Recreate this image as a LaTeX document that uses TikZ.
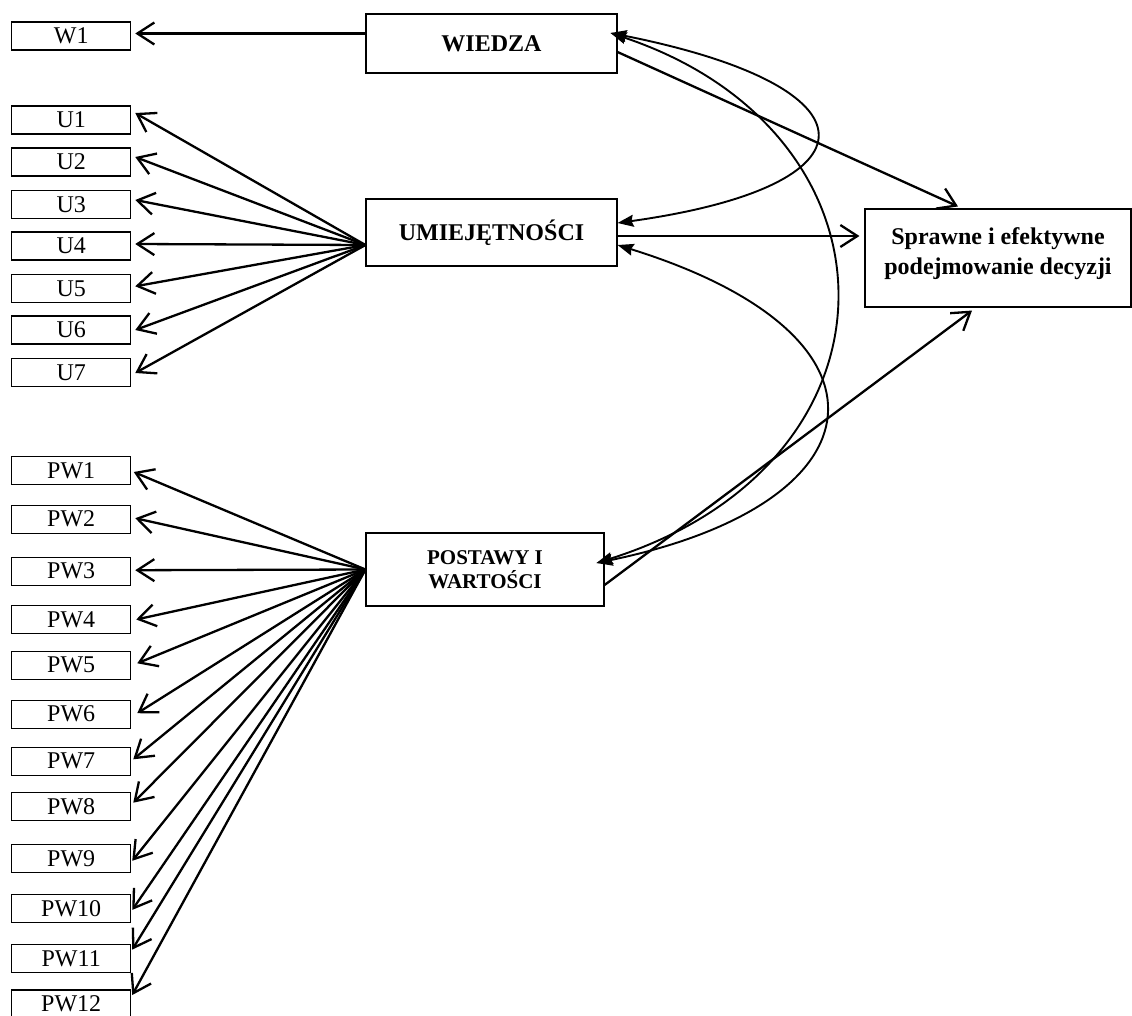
\documentclass[tikz,border=0pt]{standalone}
\usepackage{fontspec}
\setmainfont{Liberation Serif}
\usetikzlibrary{arrows.meta,calc}
\begin{document}
\begin{tikzpicture}[x=1pt,y=-1pt,
  small/.style={draw, line width=1.1pt, minimum width=119pt, minimum height=28pt, inner sep=0pt, font=\fontsize{24}{27}\selectfont},
  big/.style={draw, line width=1.1pt, inner sep=0pt, align=center, font=\fontsize{24}{30}\selectfont\bfseries},
  fan/.style={line width=2.3pt, -{Straight Barb[length=17pt,width=22pt,line width=2.3pt]}},
  corr/.style={line width=1.9pt, {Stealth[length=16pt,width=12pt,inset=2pt]}-{Stealth[length=16pt,width=12pt,inset=2pt]}}
]
\clip (0,0) rectangle (1132,1015);
\fill[white] (0,0) rectangle (1132,1015);

% latent boxes
\node[big, minimum width=251pt, minimum height=59pt] (wiedza) at (491.5,43.5) {WIEDZA};
\node[big, minimum width=251pt, minimum height=67pt] (umiej) at (491.5,232.5) {UMIEJĘTNOŚCI};
\node[big, minimum width=238pt, minimum height=73pt, font=\fontsize{21}{24}\selectfont\bfseries] (postawy) at (485,569.5) {POSTAWY I\\WARTOŚCI};
\node[big, minimum width=266pt, minimum height=98pt] (dec) at (998,258) {Sprawne i efektywne\\podejmowanie decyzji\rule[-14pt]{0pt}{14pt}};

% indicator boxes
\node[small] (w1) at (71.2,36) {W1};
\node[small] (u1) at (71.2,120) {U1};
\node[small] (u2) at (71.2,162) {U2};
\node[small] (u3) at (71.2,204.5) {U3};
\node[small] (u4) at (71.2,246) {U4};
\node[small] (u5) at (71.2,288.3) {U5};
\node[small] (u6) at (71.2,330) {U6};
\node[small] (u7) at (71.2,372.5) {U7};

\node[small] (pw1) at (71.2,470.5) {PW1};
\node[small] (pw2) at (71.2,519.2) {PW2};
\node[small] (pw3) at (71.2,571.2) {PW3};
\node[small] (pw4) at (71.2,619.5) {PW4};
\node[small] (pw5) at (71.2,665.3) {PW5};
\node[small] (pw6) at (71.2,714.2) {PW6};
\node[small] (pw7) at (71.2,761.3) {PW7};
\node[small] (pw8) at (71.2,806.7) {PW8};
\node[small] (pw9) at (71.2,858.8) {PW9};
\node[small] (pw10) at (71.2,908.4) {PW10};
\node[small] (pw11) at (71.2,958.6) {PW11};
\node[small] (pw12) at (71.2,1004) {PW12};

% W1
\draw[fan] ([yshift=10pt]wiedza.west) -- ([xshift=4pt,yshift=2.5pt]w1.east);

% U fan
\coordinate (us) at ([yshift=-12.5pt]umiej.west);
\foreach \n/\dy in {1/7,2/5,3/4.5,4/2,5/2,6/0,7/-0.5}
  \draw[fan] (us) -- ([xshift=4pt,yshift=\dy pt]u\n.east);

% PW fan
\coordinate (ps) at (postawy.west);
\foreach \n/\dx/\dy in {1/2.5/-1.5,2/4/1,3/4/1,4/5/0,5/6/2,6/6/1,7/2/2,8/2/4,9/1/-2,10/1/-1.5,11/1/9,12/1/9}
  \draw[fan] (ps) -- ([xshift=\dx pt,yshift=\dy pt]pw\n.east);

% paths to decision
\draw[fan] ([yshift=-8.5pt]wiedza.east) -- ([xshift=-40pt,yshift=2pt]dec.north);
\draw[fan] ([yshift=-3.5pt]umiej.east) -- ([xshift=-5pt,yshift=22pt]dec.west);
\draw[fan] ([yshift=-15.5pt]postawy.east) -- ([xshift=-26pt,yshift=-3pt]dec.south);

% correlations
\draw[corr] ([xshift=-7pt,yshift=10.5pt]wiedza.east) .. controls +(272,54) and +(265,-37) .. ([yshift=9.5pt]umiej.east);
\draw[corr] ([xshift=-7pt,yshift=10.5pt]wiedza.east) .. controls +(300,100) and +(318,-100) .. ([xshift=-8pt,yshift=6.5pt]postawy.east);
\draw[corr] ([yshift=-12.5pt]umiej.east) .. controls +(290,90) and +(290,-60) .. ([xshift=-8pt,yshift=6.5pt]postawy.east);
\end{tikzpicture}
\end{document}
